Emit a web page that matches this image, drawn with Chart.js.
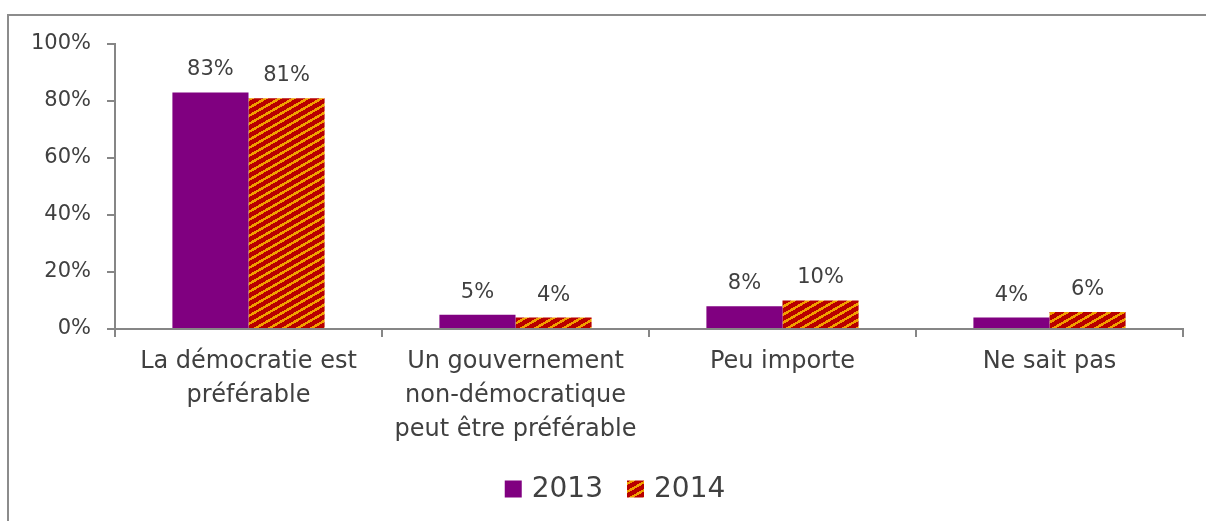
<!DOCTYPE html>
<html>
<head>
<meta charset="utf-8">
<script src="https://cdn.jsdelivr.net/npm/chart.js@4/dist/chart.umd.min.js"></script>
<style>
  html, body { margin: 0; padding: 0; background: #ffffff; overflow: hidden; }
  #frame { position: absolute; left: 7px; top: 14px; width: 1300px; height: 600px;
           border-left: 2px solid #8c8c8c; border-top: 2px solid #8c8c8c; }
  #wrap { position: absolute; left: 0; top: 0; width: 1206px; height: 521px; }
</style>
</head>
<body>
<div id="frame"></div>
<div id="wrap"><canvas id="c" width="1206" height="521"></canvas></div>
<script>
const categories = [
  ["La démocratie est", "préférable"],
  ["Un gouvernement", "non-démocratique", "peut être préférable"],
  ["Peu importe"],
  ["Ne sait pas"]
];
const seriesNames = ["2013", "2014"];
const values2013 = [83, 5, 8, 4];
const values2014 = [81, 4, 10, 6];
const yTicks = [0, 20, 40, 60, 80, 100];

const FONT = "'DejaVu Sans', sans-serif";
const TEXT = "#404040";

function makeStripes() {
  const w = 14, h = 8;
  const cv = document.createElement('canvas');
  cv.width = w; cv.height = h;
  const ctx = cv.getContext('2d');
  const img = ctx.createImageData(w, h);
  for (let y = 0; y < h; y++) {
    for (let x = 0; x < w; x++) {
      const v = ((x + y * 1.75) % 14 + 14) % 14;
      const orange = v < 5;
      const i = (y * w + x) * 4;
      if (orange) { img.data[i] = 240; img.data[i+1] = 160; img.data[i+2] = 0; }
      else { img.data[i] = 184; img.data[i+1] = 0; img.data[i+2] = 0; }
      img.data[i+3] = 255;
    }
  }
  ctx.putImageData(img, 0, 0);
  return document.getElementById('c').getContext('2d').createPattern(cv, 'repeat');
}
const stripes = makeStripes();

const valueLabels = {
  id: 'valueLabels',
  afterDatasetsDraw(chart) {
    const ctx = chart.ctx;
    ctx.save();
    ctx.font = "21px " + FONT;
    ctx.fillStyle = TEXT;
    ctx.textAlign = 'center';
    ctx.textBaseline = 'bottom';
    chart.data.datasets.forEach((ds, di) => {
      const meta = chart.getDatasetMeta(di);
      meta.data.forEach((bar, i) => {
        ctx.fillText(ds.data[i] + '%', bar.x, bar.y - 12);
      });
    });
    ctx.restore();
  }
};

const customLegend = {
  id: 'customLegend',
  afterDraw(chart) {
    const ctx = chart.ctx;
    ctx.save();
    ctx.font = "28px " + FONT;
    ctx.textBaseline = 'middle';
    ctx.textAlign = 'left';
    const box = 17, gap = 10, itemGap = 24, cy = 489, cx = 615;
    const items = chart.data.datasets.map(ds => ({ label: ds.label, fill: ds.backgroundColor, w: ctx.measureText(ds.label).width }));
    const total = items.reduce((s, it) => s + box + gap + it.w, 0) + itemGap * (items.length - 1);
    let x = cx - total / 2;
    items.forEach(it => {
      ctx.fillStyle = it.fill;
      ctx.fillRect(x, cy - box / 2, box, box);
      x += box + gap;
      ctx.fillStyle = TEXT;
      ctx.fillText(it.label, x, cy + 1);
      x += it.w + itemGap;
    });
    ctx.restore();
  }
};

new Chart(document.getElementById('c'), {
  type: 'bar',
  data: {
    labels: categories,
    datasets: [
      { label: seriesNames[0], data: values2013, backgroundColor: '#800080', borderWidth: 0 },
      { label: seriesNames[1], data: values2014, backgroundColor: stripes, borderWidth: 0 }
    ]
  },
  options: {
    responsive: false,
    animation: false,
    devicePixelRatio: 1,
    layout: { padding: { left: 0, right: 23, top: 44, bottom: 0 } },
    datasets: { bar: { categoryPercentage: 0.57, barPercentage: 1.0 } },
    plugins: {
      tooltip: { enabled: false },
      legend: { display: false }
    },
    scales: {
      x: {
        grid: { display: true, drawOnChartArea: false, offset: true, tickLength: 8, color: '#868686', lineWidth: 2 },
        border: { display: true, color: '#868686', width: 2 },
        ticks: { font: { family: FONT, size: 24, lineHeight: 1.42 }, color: TEXT, maxRotation: 0, autoSkip: false, padding: 8 },
        afterFit(scale) { scale.height = 192; }
      },
      y: {
        min: 0, max: 100,
        afterBuildTicks(scale) { scale.ticks = yTicks.map(v => ({ value: v })); },
        grid: { display: true, drawOnChartArea: false, tickLength: 8, color: '#868686', lineWidth: 2 },
        border: { display: true, color: '#868686', width: 2 },
        ticks: { font: { family: FONT, size: 21 }, color: TEXT, padding: 16, callback: v => v + '%' },
        afterFit(scale) { scale.width = 115; }
      }
    }
  },
  plugins: [valueLabels, customLegend]
});
</script>
</body>
</html>
